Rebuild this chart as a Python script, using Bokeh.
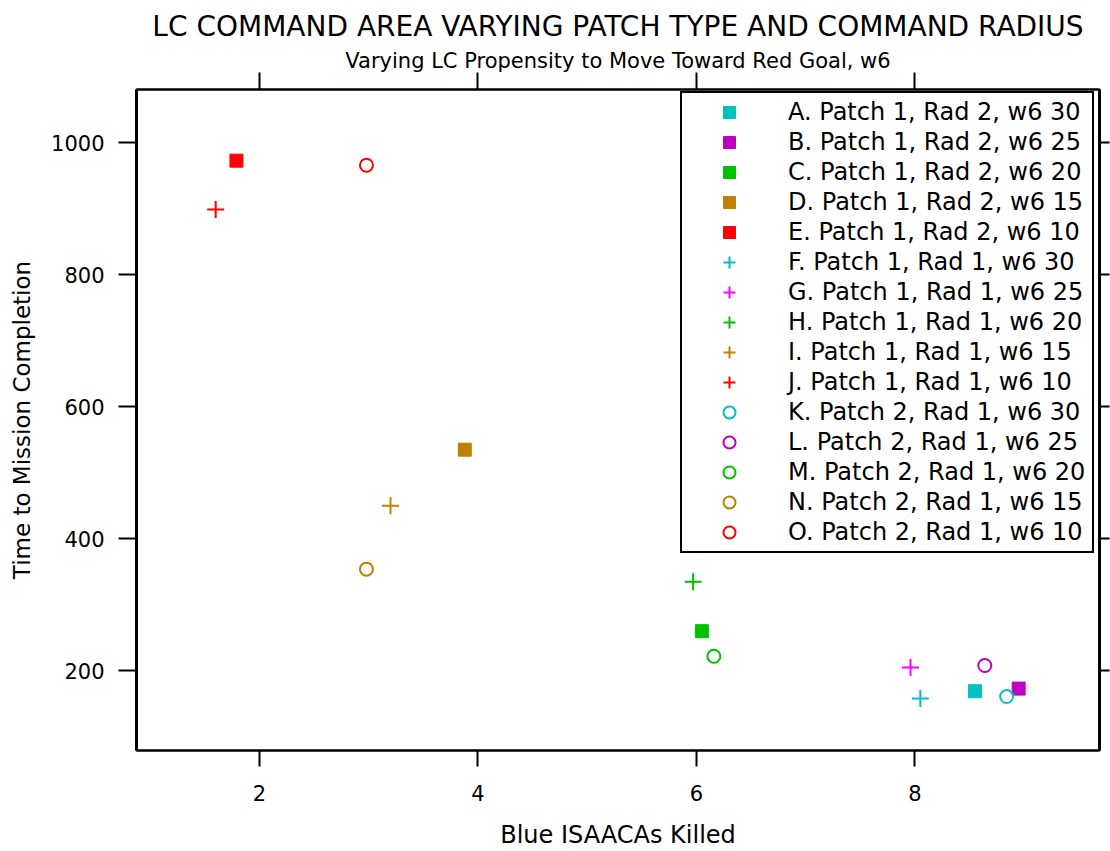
from bokeh.plotting import figure
from bokeh.models import LinearAxis, FixedTicker, Title, Legend, LegendItem, Range1d
from bokeh.embed import file_html
from bokeh.resources import INLINE

labels = [
    "A. Patch 1, Rad 2, w6 30", "B. Patch 1, Rad 2, w6 25", "C. Patch 1, Rad 2, w6 20",
    "D. Patch 1, Rad 2, w6 15", "E. Patch 1, Rad 2, w6 10",
    "F. Patch 1, Rad 1, w6 30", "G. Patch 1, Rad 1, w6 25", "H. Patch 1, Rad 1, w6 20",
    "I. Patch 1, Rad 1, w6 15", "J. Patch 1, Rad 1, w6 10",
    "K. Patch 2, Rad 1, w6 30", "L. Patch 2, Rad 1, w6 25", "M. Patch 2, Rad 1, w6 20",
    "N. Patch 2, Rad 1, w6 15", "O. Patch 2, Rad 1, w6 10",
]
blue_killed = [8.55, 8.95, 6.05, 3.88, 1.79, 8.05, 7.96, 5.97, 3.2, 1.6, 8.84, 8.64, 6.16, 2.98, 2.98]
time_to_completion = [169, 173, 260, 535, 973, 158, 205, 335, 450, 899, 161, 208, 222, 354, 966]
markers = ["square"] * 5 + ["cross"] * 5 + ["circle"] * 5
colors = ["#00C0C0", "#C000C0", "#00C000", "#C08000", "#FF0000",
          "#00C0C0", "#FF00FF", "#00C000", "#C08000", "#FF0000",
          "#00C0C0", "#C000C0", "#00C000", "#C08000", "#FF0000"]
x_ticks = [2, 4, 6, 8]
y_ticks = [200, 400, 600, 800, 1000]

FONT = "DejaVu Sans"

p = figure(frame_width=963, frame_height=661,
           x_range=Range1d(0.875, 9.69), y_range=Range1d(79.2, 1080.8),
           output_backend="svg", toolbar_location=None,
           min_border_left=136, min_border_top=89, min_border_right=11, min_border_bottom=101,
           x_axis_location=None, y_axis_location=None)
p.background_fill_color = "white"
p.border_fill_color = "white"
p.xgrid.visible = False
p.ygrid.visible = False
p.outline_line_color = "black"
p.outline_line_width = 2

def style_axis(ax, tick_out, line_width):
    ax.major_tick_out = tick_out
    ax.major_tick_in = 0
    ax.minor_tick_out = 0
    ax.minor_tick_in = 0
    ax.major_tick_line_width = 2
    ax.major_tick_line_color = "black"
    ax.axis_line_width = line_width
    ax.axis_line_color = "black"
    ax.major_label_text_font = FONT
    ax.major_label_text_color = "black"
    ax.major_label_text_font_size = "21px"
    ax.axis_label_text_font = FONT
    ax.axis_label_text_font_style = "normal"
    ax.axis_label_text_color = "black"
    ax.axis_label_text_font_size = "24px"

xb = LinearAxis(ticker=FixedTicker(ticks=x_ticks), axis_label="Blue ISAACAs Killed")
style_axis(xb, 16, 2)
xb.major_label_standoff = 18
xb.axis_label_standoff = 17
yl = LinearAxis(ticker=FixedTicker(ticks=y_ticks), axis_label="Time to Mission Completion")
style_axis(yl, 18, 3)
yl.axis_label_text_font_size = "23px"
yl.major_label_standoff = 14
yl.axis_label_standoff = 13
xt = LinearAxis(ticker=FixedTicker(ticks=x_ticks),
                major_label_overrides={t: "" for t in x_ticks})
style_axis(xt, 17, 2)
xt.major_label_standoff = 0
yr = LinearAxis(ticker=FixedTicker(ticks=y_ticks),
                major_label_overrides={t: "" for t in y_ticks})
style_axis(yr, 10, 3)
yr.major_label_standoff = 0

p.add_layout(xb, "below")
p.add_layout(yl, "left")
p.add_layout(yr, "right")
p.add_layout(xt, "above")
p.add_layout(Title(text="Varying LC Propensity to Move Toward Red Goal, w6", align="center",
                   text_font=FONT, text_font_size="21px", text_font_style="normal",
                   text_color="black", standoff=0), "above")
p.add_layout(Title(text="LC COMMAND AREA VARYING PATCH TYPE AND COMMAND RADIUS", align="center",
                   text_font=FONT, text_font_size="28px", text_font_style="normal",
                   text_color="black", standoff=8), "above")

items = []
for lab, x, y, m, c in zip(labels, blue_killed, time_to_completion, markers, colors):
    if m == "square":
        r = p.scatter([x], [y], marker="square", size=13, fill_color=c, line_color=c, line_width=1)
    elif m == "cross":
        r = p.scatter([x], [y], marker="cross", size=17, line_color=c, line_width=2)
    else:
        r = p.scatter([x], [y], marker="circle", size=13, fill_color=None, line_color=c, line_width=2)
    items.append(LegendItem(label=lab, renderers=[r]))

legend = Legend(items=items, location=(544, 197), padding=4, margin=0, spacing=0,
                glyph_width=86, glyph_height=30, label_height=30, label_width=300,
                label_standoff=16, label_text_font=FONT, label_text_font_size="24px",
                label_text_color="black", border_line_color="black", border_line_width=2,
                border_line_alpha=1,
                background_fill_color="white", background_fill_alpha=1)
p.add_layout(legend)

open("out.html", "w").write(file_html(p, INLINE))
